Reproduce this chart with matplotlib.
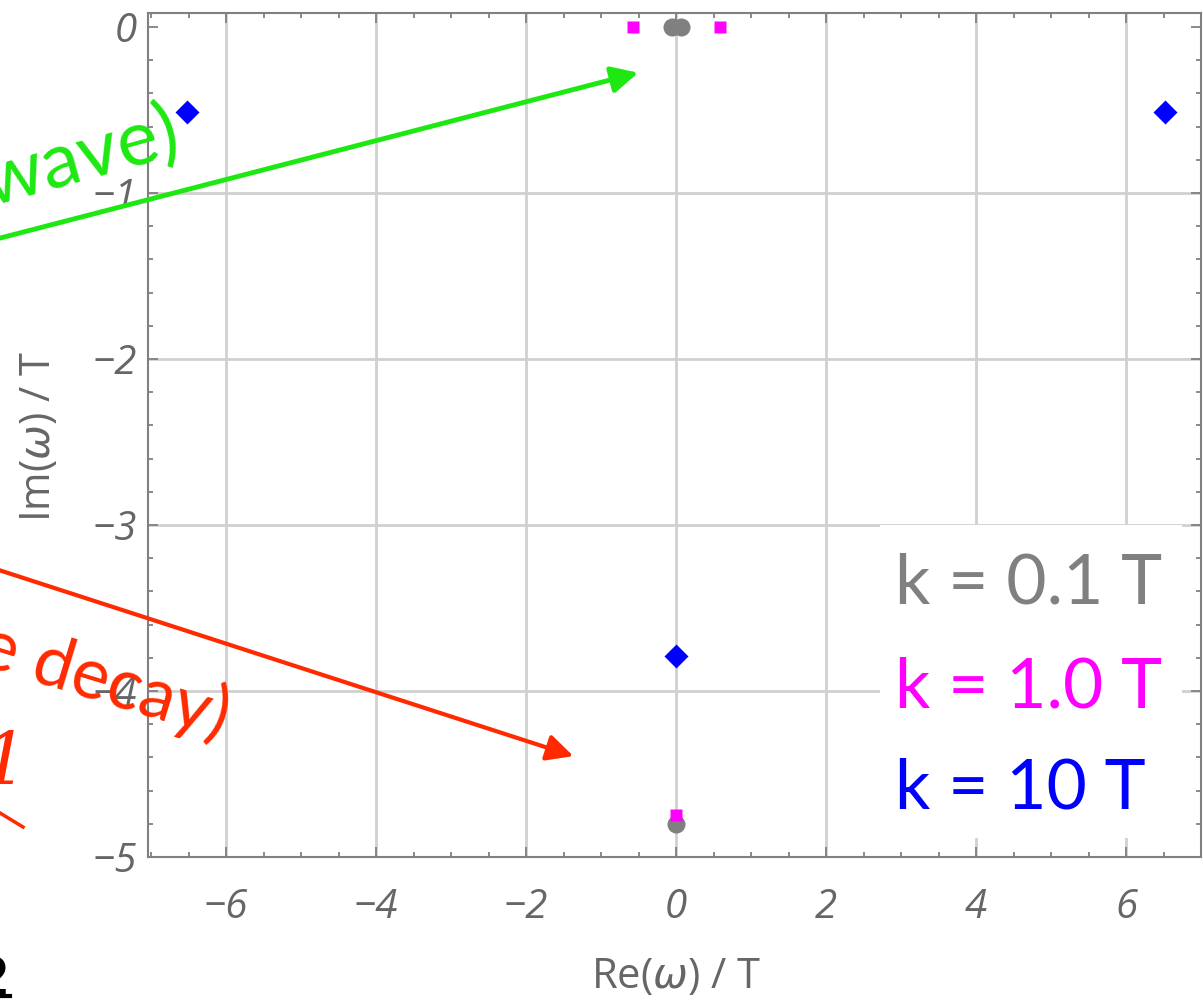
import matplotlib
matplotlib.use('agg')
import numpy as np
import matplotlib.pyplot as plt
from matplotlib.ticker import MultipleLocator
from matplotlib.patches import Rectangle, FancyArrowPatch
from matplotlib.lines import Line2D

plt.rcParams['font.family'] = ['Open Sans', 'DejaVu Sans']
plt.rcParams['mathtext.fontset'] = 'dejavusans'

# poles (Re, Im) in units of T
re_k01 = [-0.06, 0.06, 0.0]
im_k01 = [0.0, 0.0, -4.80]
re_k1 = [-0.58, 0.58, 0.0]
im_k1 = [0.0, 0.0, -4.75]
re_k10 = [-6.52, 6.52, 0.0]
im_k10 = [-0.51, -0.51, -3.79]

legend_labels = ['k = 0.1 T', 'k = 1.0 T', 'k = 10 T']
legend_colors = ['#808080', '#ff00ff', '#0000ff']

xticks = [-6, -4, -2, 0, 2, 4, 6]
yticks = [0, -1, -2, -3, -4, -5]

W, H = 1203, 1005
fig = plt.figure(figsize=(W / 100, H / 100), dpi=100)
ax = fig.add_axes([148 / W, 1 - 857 / H, 1053 / W, 844 / H])
ax.set_xlim(-7.04, 7.0)
ax.set_ylim(-5, 0.084)

grid_c = '#d0d0d0'
for x in xticks:
    ax.axvline(x, color=grid_c, lw=2, zorder=0)
for y in yticks[1:-1]:
    ax.axhline(y, color=grid_c, lw=2, zorder=0)

# legend background box (covers grid)
fig.patches.append(Rectangle((880, H - 838), 302, 313, transform=None,
                             facecolor='white', edgecolor='none', zorder=1))

ax.plot(re_k01, im_k01, 'o', color='#808080', ms=13, mec='none', zorder=3)
ax.plot(re_k1, im_k1, 's', color='#ff00ff', ms=9, mec='none', zorder=4)
ax.plot(re_k10, im_k10, 'D', color='#0000ff', ms=12, mec='none', zorder=4)

spine_c = '#808080'
for s in ax.spines.values():
    s.set_color(spine_c)
    s.set_linewidth(1.5)
ax.set_xticks(xticks)
ax.set_yticks(yticks)
ax.xaxis.set_minor_locator(MultipleLocator(0.5))
ax.yaxis.set_minor_locator(MultipleLocator(0.2))
ax.tick_params(which='both', direction='in', top=True, right=True,
               color=spine_c, width=1.3)
ax.tick_params(which='major', length=7)
ax.tick_params(which='minor', length=3.5)
ax.tick_params(axis='x', pad=22)
ax.tick_params(axis='y', pad=8)
ax.set_xticklabels(['\u2212%d' % -v if v < 0 else '%d' % v for v in xticks])
ax.set_yticklabels(['\u2212%d' % -v if v < 0 else '%d' % v for v in yticks])
for lab in ax.get_xticklabels() + ax.get_yticklabels():
    lab.set_fontstyle('italic')
    lab.set_fontsize(29)
    lab.set_color('#666666')

fig.text(676 / W, 1 - 977 / H, 'Re($\\omega$) / T', fontsize=30, color='#666666',
         ha='center', va='center')
fig.text(39 / W, 1 - 437 / H, 'Im($\\omega$) / T', fontsize=30, color='#666666',
         ha='center', va='center', rotation=90)

# legend texts
for i, (lab, c) in enumerate(zip(legend_labels, legend_colors)):
    fig.text(895 / W, 1 - [603, 708, 808][i] / H, lab, color=c, fontsize=50,
             family='Lato', ha='left', va='baseline', zorder=5)

# annotation arrows and cut-off texts on the left
green = '#1ee812'
red = '#ff2a00'
fig.add_artist(FancyArrowPatch(
    (-100, H - 264), (641, H - 72), transform=None, arrowstyle='-|>',
    mutation_scale=40, color=green, lw=3.5, zorder=6))
fig.add_artist(FancyArrowPatch(
    (-100, H - 538), (576, H - 757), transform=None, arrowstyle='-|>',
    mutation_scale=40, color=red, lw=3, zorder=6))
fig.text(-10 / W, 1 - 206 / H, 'wave)', color=green, fontsize=56, rotation=15.5,
         family='Lato', ha='left', va='baseline', rotation_mode='anchor')
fig.text(-24 / W, 1 - 664 / H, 'e decay)', color=red, fontsize=51, rotation=-17,
         family='Lato', ha='left', va='baseline', rotation_mode='anchor')
fig.text(-18 / W, 1 - 785 / H, '1', color=red, fontsize=52, family='DejaVu Serif',
         style='italic', ha='left', va='baseline')
fig.add_artist(Line2D([0, 23], [H - 813, H - 827], transform=None,
                      color=red, lw=2.5))
fig.text(10 / W, 1 - 996 / H, '2', color='black', fontsize=40, weight='bold',
         family='DejaVu Sans', ha='right', va='baseline')
fig.add_artist(Line2D([0, 10], [H - 996, H - 996], transform=None,
                      color='black', lw=3))

fig.savefig('out.png', dpi=100)
